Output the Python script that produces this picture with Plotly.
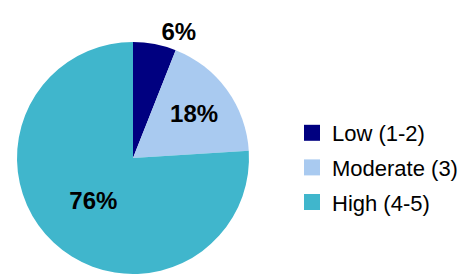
import plotly.graph_objects as go

categories = ["Low (1-2)", "Moderate (3)", "High (4-5)"]
values = [6, 18, 76]
labels_text = ["6%", "18%", "76%"]
colors = ["#000080", "#A9CAF0", "#40B6CC"]
text_positions = ["outside", "inside", "inside"]

W, H = 470, 274
cx, cy, r = 125, 150, 116

fig = go.Figure()
fig.add_trace(go.Pie(
    labels=categories,
    values=values,
    text=labels_text,
    textinfo="text",
    textposition=text_positions,
    sort=False,
    direction="clockwise",
    rotation=0,
    marker=dict(colors=colors, line=dict(width=0)),
    textfont=dict(family="Liberation Sans, Arial, sans-serif", size=24, color="black", weight="bold"),
    insidetextorientation="horizontal",
    showlegend=False,
    domain=dict(x=[(cx - r) / W, (cx + r) / W], y=[(H - cy - r) / H, (H - cy + r) / H]),
    hoverinfo="label+percent",
))

for cat, col in zip(categories, colors):
    fig.add_trace(go.Scatter(
        x=[None], y=[None], mode="markers", name=cat, legendgroup=cat,
        marker=dict(symbol="square", size=16, color=col),
        showlegend=True,
    ))

fig.update_layout(
    width=W, height=H,
    margin=dict(l=0, r=0, t=0, b=0),
    paper_bgcolor="white", plot_bgcolor="white",
    xaxis=dict(visible=False), yaxis=dict(visible=False),
    legend=dict(
        x=284 / W, y=(H - 104) / H, xanchor="left", yanchor="top",
        font=dict(family="Liberation Sans, Arial, sans-serif", size=22, color="black"),
        bgcolor="rgba(0,0,0,0)", itemwidth=30, tracegroupgap=3, traceorder="grouped",
    ),
    uniformtext=dict(minsize=22, mode="show"),
)

fig.write_html("out.html")
